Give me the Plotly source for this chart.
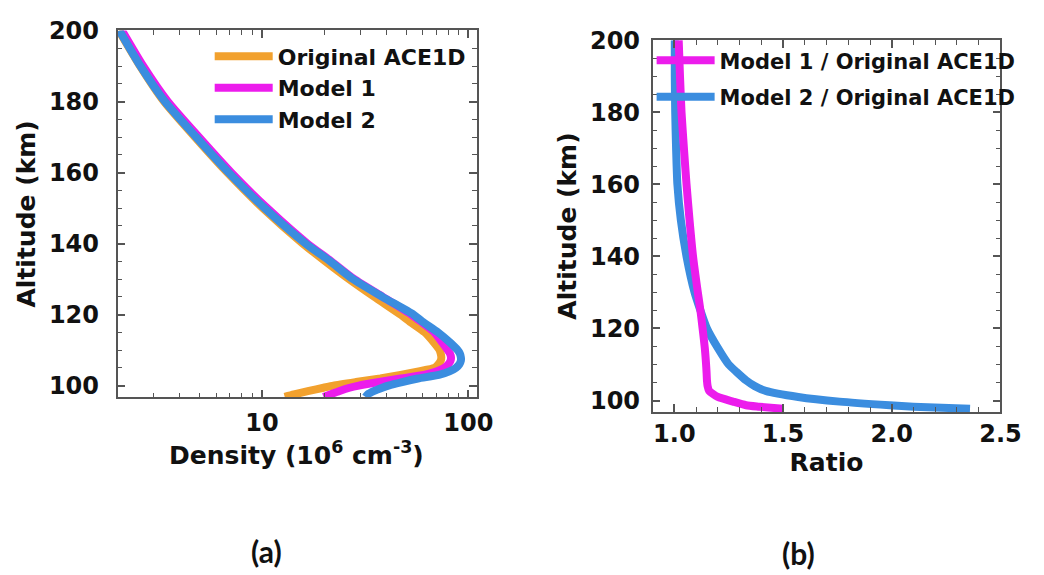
import math
import plotly.graph_objects as go

# ---------------- data ----------------
alt_density = [96.8, 97.5, 98.5, 99.4, 100, 101, 102, 103, 104, 105, 106, 107, 108,
               109, 110, 112, 115, 118, 120, 125, 130, 135, 140, 150, 160, 170, 180, 190, 200]
orig_density = [12.9, 14.3, 16.9, 19.9, 22.2, 28.6, 37.5, 47.0, 57.5, 68.7, 71.6, 73.5, 74.0,
                73.5, 72.6, 68.4, 61.5, 52.1, 46.9, 35.0, 26.4, 20.3, 15.8, 10.1, 6.8, 4.74, 3.36, 2.57, 2.03]
model1_density = [19.9, 21.4, 23.8, 26.6, 29.5, 37.0, 47.0, 61.0, 70.0, 76.5, 80.0, 82.0, 82.4,
                  81.5, 79.4, 75.0, 68.5, 59.0, 53.0, 38.5, 28.0, 21.7, 16.6, 10.6, 7.1, 4.95, 3.5, 2.66, 2.1]
model2_density = [31.8, 32.5, 35.0, 38.3, 41.0, 47.8, 57.0, 72.0, 81.0, 87.1, 90.5, 92.0, 92.0,
                  91.0, 88.7, 82.0, 71.3, 60.0, 54.2, 38.3, 27.6, 21.4, 16.3, 10.3, 6.9, 4.8, 3.39, 2.58, 2.04]

alt_ratio = [97.7, 98.3, 98.7, 99.7, 101, 102.7, 104, 105.6, 108, 110, 114.6, 120, 125,
             130, 140, 150, 160, 170, 180, 190, 200]
ratio_model1 = [1.50, 1.39, 1.33, 1.27, 1.20, 1.16, 1.153, 1.15, 1.148, 1.146, 1.14, 1.13, 1.12,
                1.108, 1.086, 1.07, 1.056, 1.044, 1.033, 1.026, 1.02]
ratio_model2 = [2.36, 2.10, 1.99, 1.76, 1.57, 1.42, 1.37, 1.33, 1.285, 1.25, 1.20, 1.15, 1.12,
                1.093, 1.056, 1.03, 1.014, 1.008, 1.004, 1.002, 1.002]

density_major_ticks = [10, 100]
density_minor_ticks = [3, 4, 5, 6, 7, 8, 9, 20, 30, 40, 50, 60, 70, 80, 90]
ratio_ticks = [1.0, 1.5, 2.0, 2.5]
alt_ticks = [100, 120, 140, 160, 180, 200]

# ---------------- styling ----------------
W, H = 1044, 575
ORANGE = "#F2A12E"
MAGENTA = "#EC1CEC"
BLUE = "#3B8DDF"
FONT = "DejaVu Sans"
AXCOL = "#555555"
LW = 8
TXT = "#111111"


def fx(p):
    return p / W


def fy(p):
    return 1 - p / H


def line(color):
    return dict(color=color, width=LW, shape="spline", smoothing=0.6)


fig = go.Figure()
fig.add_trace(go.Scatter(x=orig_density, y=alt_density, mode="lines", name="Original ACE1D",
                         line=line(ORANGE), xaxis="x", yaxis="y",
                         legend="legend", legendgroup="a"))
fig.add_trace(go.Scatter(x=model1_density, y=alt_density, mode="lines", name="Model 1",
                         line=line(MAGENTA), xaxis="x", yaxis="y",
                         legend="legend", legendgroup="b"))
fig.add_trace(go.Scatter(x=model2_density, y=alt_density, mode="lines", name="Model 2",
                         line=line(BLUE), xaxis="x", yaxis="y",
                         legend="legend", legendgroup="c"))
fig.add_trace(go.Scatter(x=ratio_model2, y=alt_ratio, mode="lines", name="Model 2 / Original ACE1D",
                         line=line(BLUE), xaxis="x2", yaxis="y2",
                         legend="legend2", legendgroup="e", legendrank=2))
fig.add_trace(go.Scatter(x=ratio_model1, y=alt_ratio, mode="lines", name="Model 1 / Original ACE1D",
                         line=line(MAGENTA), xaxis="x2", yaxis="y2",
                         legend="legend2", legendgroup="d", legendrank=1))

tickfont = dict(family=FONT, size=24, color=TXT, weight="bold")
titlefont = dict(family=FONT, size=25, color=TXT, weight="bold")

common = dict(showline=True, linecolor=AXCOL, linewidth=1.5, mirror="allticks",
              ticks="inside", tickcolor=AXCOL, tickwidth=1.5, showgrid=False,
              zeroline=False, tickfont=tickfont)

fig.update_layout(
    width=W, height=H,
    paper_bgcolor="white", plot_bgcolor="white",
    margin=dict(l=0, r=0, t=0, b=0),
    font=dict(family=FONT, color=TXT, weight="bold"),
    xaxis=dict(domain=[fx(120), fx(487)], anchor="y", type="log",
               range=[math.log10(2.0), 2.043],
               tickvals=density_major_ticks, ticktext=[str(v) for v in density_major_ticks],
               ticklen=8, ticklabelstandoff=3,
               minor=dict(tickvals=density_minor_ticks, ticks="inside", ticklen=5,
                          tickcolor=AXCOL, tickwidth=1.2, showgrid=False),
               **common),
    yaxis=dict(domain=[fy(395), fy(17)], anchor="x", range=[96.7, 200],
               tickvals=alt_ticks, ticklen=8, ticklabelstandoff=12,
               minor=dict(dtick=5, ticks="inside", ticklen=5, tickcolor=AXCOL, tickwidth=1.2,
                          showgrid=False),
               title=dict(text="Altitude (km)", font=titlefont, standoff=6),
               **common),
    xaxis2=dict(domain=[fx(666), fx(1021)], anchor="y2", range=[0.9, 2.5],
                tickvals=ratio_ticks, ticktext=["%.1f" % v for v in ratio_ticks],
                ticklen=8, ticklabelstandoff=0,
                minor=dict(dtick=0.1, ticks="inside", ticklen=5, tickcolor=AXCOL, tickwidth=1.2,
                           showgrid=False),
                title=dict(text="Ratio", font=titlefont, standoff=0),
                **common),
    yaxis2=dict(domain=[fy(410), fy(27)], anchor="x2", range=[96.85, 200],
                tickvals=alt_ticks, ticklen=8, ticklabelstandoff=6,
                minor=dict(dtick=5, ticks="inside", ticklen=5, tickcolor=AXCOL, tickwidth=1.2,
                           showgrid=False),
                title=dict(text="Altitude (km)", font=titlefont, standoff=6),
                **common),
    legend=dict(x=fx(214), y=fy(22), xanchor="left", yanchor="top",
                bgcolor="rgba(0,0,0,0)", borderwidth=0, tracegroupgap=0,
                itemwidth=58,
                font=dict(family=FONT, size=22, color=TXT, weight="bold")),
    legend2=dict(x=fx(665), y=fy(27), xanchor="left", yanchor="top",
                 bgcolor="rgba(0,0,0,0)", borderwidth=0, tracegroupgap=6,
                 itemwidth=58,
                 font=dict(family=FONT, size=21, color=TXT, weight="bold")),
    showlegend=True,
)

# x-axis title of panel (a) (placed as annotation for exact vertical position)
fig.add_annotation(x=fx(303), y=fy(453), xref="paper", yref="paper",
                   text="Density (10<sup>6</sup> cm<sup>-3</sup>)", showarrow=False,
                   font=titlefont, xanchor="center", yanchor="middle")
fig.add_annotation(x=fx(272), y=fy(553), xref="paper", yref="paper", text="(a)",
                   showarrow=False, xanchor="center", yanchor="middle",
                   font=dict(family="Lato", size=30, color=TXT, weight="bold"))
fig.add_annotation(x=fx(815), y=fy(555), xref="paper", yref="paper", text="(b)",
                   showarrow=False, xanchor="center", yanchor="middle",
                   font=dict(family="Lato", size=30, color=TXT, weight="bold"))

fig.write_html("out.html", config={"displayModeBar": False},
               post_script="document.body.style.margin='0';")
